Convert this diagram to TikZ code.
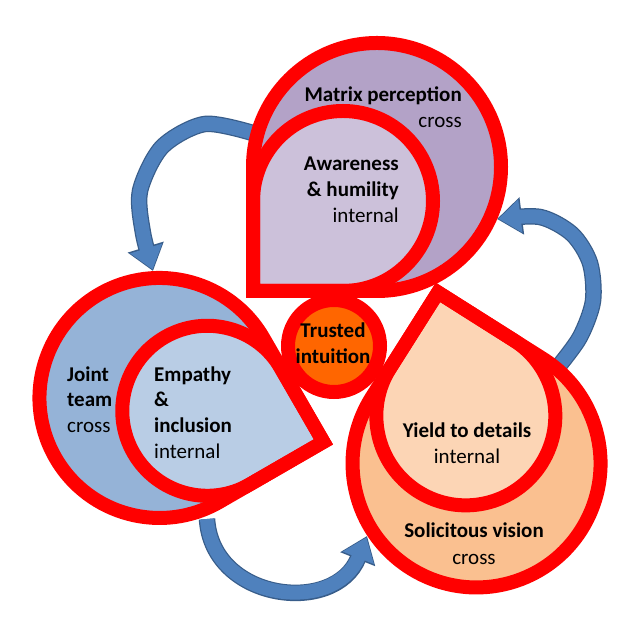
\documentclass[tikz,border=0pt]{standalone}
\usepackage{fontspec}
\setmainfont{Carlito}
\usetikzlibrary{arrows.meta}
\definecolor{ringred}{RGB}{255,0,0}
\definecolor{purpleout}{RGB}{179,162,199}
\definecolor{purplein}{RGB}{204,193,218}
\definecolor{blueout}{RGB}{149,179,215}
\definecolor{bluein}{RGB}{185,205,229}
\definecolor{orangeout}{RGB}{250,192,144}
\definecolor{orangein}{RGB}{252,213,181}
\definecolor{coreorange}{RGB}{255,102,0}
\definecolor{arrowblue}{RGB}{79,129,189}
\definecolor{arrowedge}{RGB}{56,93,138}
% teardrop: #1 options, #2 corner coordinate, #3 corner direction, #4 radius
\newcommand\tdrop[4]{%
  \pgfmathsetmacro\tdA{#3+45}%
  \pgfmathsetmacro\tdB{#3+315}%
  \pgfmathsetmacro\tdC{#3+135}%
  \path[#1] (#2) -- ++(\tdC:#4) arc[start angle=\tdA, end angle=\tdB, radius=#4] -- cycle;}
\begin{document}
\begin{tikzpicture}[x=1pt,y=1pt,
  ring/.style={draw=ringred, line width=14pt, line join=miter},
  ttl/.style={font=\fontsize{21}{26}\selectfont\bfseries, inner sep=0pt},
  sub/.style={font=\fontsize{21}{26}\selectfont, inner sep=0pt},
  arrowedgeline/.style={draw=arrowedge, line width=16.5pt, -{Triangle[width=36pt,length=25pt]}},
  arrowfillline/.style={draw=arrowblue, line width=14pt, -{Triangle[width=32pt,length=22pt]}, shorten >=1.5pt}]
\useasboundingbox (0,0) rectangle (640,631);
% corners and centres
\coordinate (ct) at (253,340);
\coordinate (cl) at (323.4,189.1);
\coordinate (cr) at (438,338.6);
\coordinate (core) at (334,285);
% arrow ends
\coordinate (a1s) at (256,497);
\coordinate (a1e) at (153,360);
\coordinate (a2s) at (558,264);
\coordinate (a2e) at (497,412);
\coordinate (a3s) at (207,112);
\coordinate (a3e) at (367,95);
% arrows
\draw[arrowedgeline] plot[smooth] coordinates {(a1s) (205,507) (162,484) (140,440) (143,398) (a1e)};
\draw[arrowfillline] plot[smooth] coordinates {(a1s) (205,507) (162,484) (140,440) (143,398) (a1e)};
\draw[arrowedgeline] plot[smooth] coordinates {(a2s) (580,294) (593,330) (590,368) (572,397) (540,414) (a2e)};
\draw[arrowfillline] plot[smooth] coordinates {(a2s) (580,294) (593,330) (590,368) (572,397) (540,414) (a2e)};
\draw[arrowedgeline] (a3s) .. controls (212,30) and (335,15) .. (a3e);
\draw[arrowfillline] (a3s) .. controls (212,30) and (335,15) .. (a3e);
% fills
\tdrop{fill=purpleout}{ct}{225}{124}
\tdrop{fill=purplein}{ct}{225}{90}
\tdrop{fill=blueout}{cl}{-15}{120}
\tdrop{fill=bluein}{cl}{-15}{85}
\tdrop{fill=orangeout}{cr}{102.7}{124}
\tdrop{fill=orangein}{cr}{102.7}{89.5}
\fill[coreorange] (core) circle[radius=46];
% rings
\tdrop{ring}{ct}{225}{124}
\tdrop{ring}{ct}{225}{90}
\tdrop{ring}{cl}{-15}{120}
\tdrop{ring}{cl}{-15}{85}
\tdrop{ring}{cr}{102.7}{124}
\tdrop{ring}{cr}{102.7}{89.5}
\draw[ring] (core) circle[radius=46];
% texts
\node[ttl, anchor=base east] (mp) at (462,529) {Matrix perception};
\node[sub, anchor=base east] (mpc) at (462,503) {cross};
\node[ttl, anchor=base east] (ah1) at (399,460) {Awareness};
\node[ttl, anchor=base east] (ah2) at (399,434) {\& humility};
\node[sub, anchor=base east] (ahi) at (399,408) {internal};
\node[ttl, anchor=base west] (jt1) at (67,249) {Joint};
\node[ttl, anchor=base west] (jt2) at (67,224) {team};
\node[sub, anchor=base west] (jtc) at (67,198) {cross};
\node[ttl, anchor=base west] (ei1) at (154,249) {Empathy};
\node[ttl, anchor=base west] (ei2) at (154,224) {\&};
\node[ttl, anchor=base west] (ei3) at (154,198) {inclusion};
\node[sub, anchor=base west] (eii) at (154,172) {internal};
\node[ttl, anchor=base] (ti1) at (333,293) {Trusted};
\node[ttl, anchor=base] (ti2) at (333,267) {intuition};
\node[ttl, anchor=base] (yd) at (467,193) {Yield to details};
\node[sub, anchor=base] (ydi) at (467,167) {internal};
\node[ttl, anchor=base] (sv) at (474,93) {Solicitous vision};
\node[sub, anchor=base] (svc) at (474,66) {cross};
\end{tikzpicture}
\end{document}
